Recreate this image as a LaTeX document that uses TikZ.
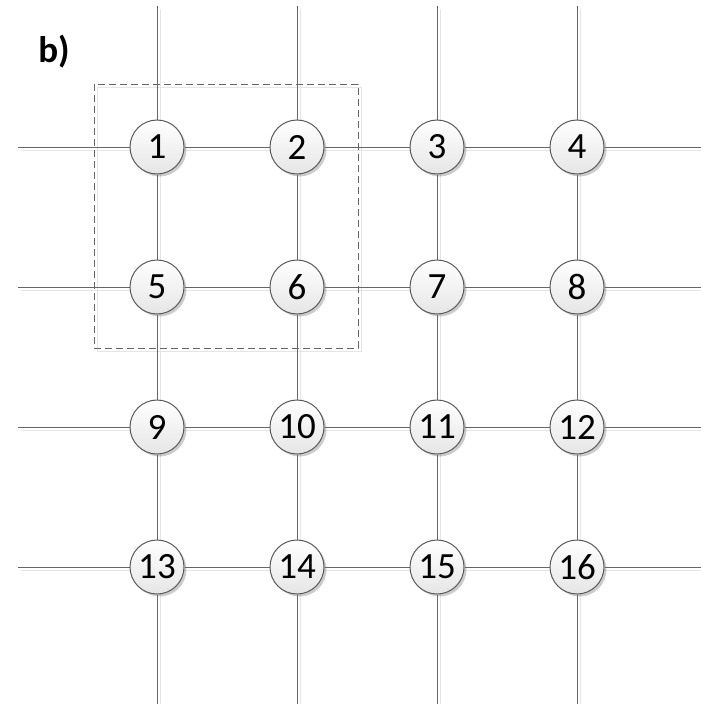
\documentclass[tikz,border=0pt]{standalone}
\usepackage{fontspec}
\setmainfont{Carlito}
\usetikzlibrary{shadows}

\tikzstyle{every node}=[font=\fontsize{37}{44}\selectfont]
\tikzstyle{station}=[circle, draw=black!65, line width=1pt, minimum size=54pt, inner sep=0pt,
  top color=white, bottom color=black!10,
  drop shadow={shadow xshift=2.5pt, shadow yshift=-2.5pt, opacity=0.2, fill=black}]
\tikzstyle{wire}=[draw=black!60, line width=1pt]
\tikzstyle{wireshadow}=[draw=black!10, line width=1pt]
\tikzstyle{groupbox}=[draw=black!60, line width=1pt, dash pattern=on 7pt off 4pt]

\begin{document}
\begin{tikzpicture}[x=1pt, y=-1pt]
	\useasboundingbox (0,0) rectangle (701,704);
	%faint wire shadows
	\foreach \i in {0,...,3} {
		\draw[wireshadow] (160+140*\i,9) -- (160+140*\i,704);
		\draw[wireshadow] (21,150+140*\i) -- (701,150+140*\i);
	}
	%group of four
	\draw[draw=black!10, line width=1pt] (97,87) rectangle (361,351);
	\draw[groupbox] (94,84) rectangle (358,348);
	%nodes
	\foreach \r in {0,...,3}
	\foreach \c in {0,...,3} {
		\pgfmathtruncatemacro{\k}{4*\r+\c+1}
		\node[station] (n\k) at (157+140*\c,147+140*\r) {\k};
	}
	%free ends
	\foreach \i in {1,...,4} {
		\coordinate (top\i) at (17+140*\i,6);
		\coordinate (bot\i) at (17+140*\i,704);
		\coordinate (left\i) at (18,7+140*\i);
		\coordinate (right\i) at (701,7+140*\i);
	}
	%wires
	\foreach \i in {1,...,4} {
		\pgfmathtruncatemacro{\a}{\i}
		\pgfmathtruncatemacro{\b}{\i+4}
		\pgfmathtruncatemacro{\c}{\i+8}
		\pgfmathtruncatemacro{\d}{\i+12}
		\draw[wire] (top\i) -- (n\a) -- (n\b) -- (n\c) -- (n\d) -- (bot\i);
		\pgfmathtruncatemacro{\a}{4*\i-3}
		\pgfmathtruncatemacro{\b}{4*\i-2}
		\pgfmathtruncatemacro{\c}{4*\i-1}
		\pgfmathtruncatemacro{\d}{4*\i}
		\draw[wire] (left\i) -- (n\a) -- (n\b) -- (n\c) -- (n\d) -- (right\i);
	}
	%label
	\node[font=\fontsize{37}{44}\selectfont\bfseries] (tag) at (54,52) {b)};
\end{tikzpicture}
\end{document}
